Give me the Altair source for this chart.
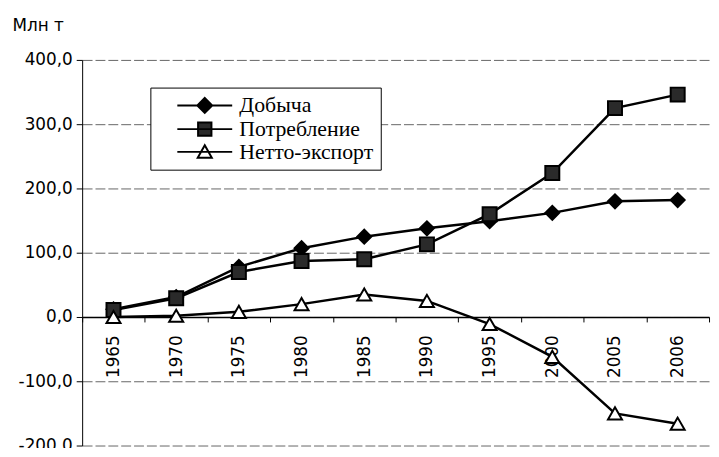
import altair as alt
import pandas as pd

years = ["1965", "1970", "1975", "1980", "1985", "1990", "1995", "2000", "2005", "2006"]
series_names = ["Добыча", "Потребление", "Нетто-экспорт"]
production = [12, 31, 78, 107, 125, 138, 149, 162, 180, 182]
consumption = [11, 29, 70, 87, 90, 113, 160, 224, 325, 346]
net_export = [0, 2, 8, 20, 35, 25, -11, -62, -150, -166]
y_ticks = [-200, -100, 0, 100, 200, 300, 400]

rows = []
for name, vals in zip(series_names, [production, consumption, net_export]):
    for yr, v in zip(years, vals):
        rows.append({"year": yr, "series": name, "value": v})
df = pd.DataFrame(rows)

W, H = 634, 390
SERIF = "Liberation Serif, 'Times New Roman', serif"

x_enc = alt.X(
    "year:O",
    sort=years,
    scale=alt.Scale(type="band", paddingInner=0, paddingOuter=0),
    axis=alt.Axis(
        title=None, orient="bottom", offset=-130, labelAngle=270,
        labelFont="DejaVu Sans", labelFontSize=17, labelColor="black",
        tickBand="extent", tickSize=5, tickColor="black", labelPadding=13,
        domainColor="black", domainWidth=1.5, grid=False,
    ),
)
y_enc = alt.Y(
    "value:Q",
    scale=alt.Scale(domain=[-200, 400], nice=False, zero=False),
    axis=alt.Axis(
        values=y_ticks,
        labelExpr="replace(replace(format(datum.value, '.1f'), '.', ','), '\u2212', '-')",
        title="Млн т", titleAngle=0, titleX=-71, titleY=-30,
        titleAlign="left", titleBaseline="alphabetic",
        titleFont="DejaVu Sans", titleFontSize=17, titleFontWeight="normal", titleColor="black",
        labelFont="DejaVu Sans", labelFontSize=17, labelColor="black", labelPadding=4,
        gridDash=[10, 3], gridColor="#666666", gridWidth=1,
        domainColor="black", domainWidth=1, tickColor="black", tickSize=6,
    ),
)

base = alt.Chart(df)

lines = base.mark_line(color="black", strokeWidth=2.5).encode(
    x=x_enc, y=y_enc, detail="series:N"
)

points = base.mark_point(filled=True, stroke="black", strokeWidth=2, size=200, opacity=1).encode(
    x=x_enc,
    y=y_enc,
    shape=alt.Shape("series:N", scale=alt.Scale(domain=series_names,
                    range=["diamond", "square", "triangle-up"]), legend=None),
    fill=alt.Fill("series:N", scale=alt.Scale(domain=series_names,
                  range=["black", "#2a2a2a", "white"]), legend=None),
)

legend_paths = [
    "M-3.7,0H3.7M0,-1L1,0L0,1L-1,0Z",
    "M-3.7,0H3.7M-0.9,-0.9H0.9V0.9H-0.9Z",
    "M-3.7,0H3.7M0,-0.9L0.95,0.8H-0.95Z",
]
leg = alt.Legend(
    orient="none", legendX=69, legendY=28, title=None,
    labelFont=SERIF, labelFontSize=22, labelColor="black",
    strokeColor="black", fillColor="white", padding=7, rowPadding=1,
    symbolSize=225, symbolStrokeWidth=2, symbolStrokeColor="black",
    symbolOffset=37, labelOffset=24, cornerRadius=0, symbolOpacity=1,
)
legend_layer = base.transform_filter("datum.value > 100000").mark_point(
    filled=True, strokeWidth=2, opacity=1
).encode(
    x=x_enc,
    y=y_enc,
    shape=alt.Shape("series:N", scale=alt.Scale(domain=series_names, range=legend_paths), legend=leg),
    fill=alt.Fill("series:N", scale=alt.Scale(domain=series_names,
                  range=["black", "#2a2a2a", "white"]), legend=leg),
    stroke=alt.Stroke("series:N", scale=alt.Scale(domain=series_names,
                      range=["black", "black", "black"]), legend=leg),
)

chart = alt.layer(lines, points, legend_layer).resolve_scale(
    shape="independent", fill="independent", stroke="independent"
).properties(
    width=W, height=H,
    autosize=alt.AutoSizeParams(type="none"),
    padding={"left": 75, "top": 50, "right": 2, "bottom": 0},
    background="white",
).configure_view(stroke=None).configure_legend(labelFont=SERIF)

chart.save("out.html", embed_options={"renderer": "svg", "actions": False})
